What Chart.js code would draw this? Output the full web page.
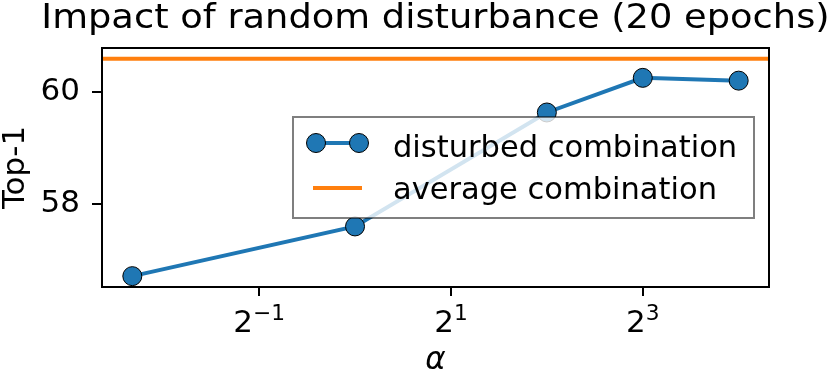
<!DOCTYPE html>
<html>
<head>
<meta charset="utf-8">
<script src="https://cdn.jsdelivr.net/npm/chart.js@4"></script>
<style>
  html, body { margin: 0; padding: 0; background: #fff; }
  #wrap { width: 830px; height: 377px; }
</style>
</head>
<body>
<div id="wrap"><canvas id="impact"></canvas></div>
<script>
    // values
    const alphas = [0.2, 1, 4, 8, 16];
    const top1 = [56.70, 57.59, 59.63, 60.25, 60.20];
    const averageTop1 = 60.59;
    const xTickValues = [0.5, 2, 8];
    const xTickBase = ['2', '2', '2'];
    const xTickExp = ['\u22121', '1', '3'];
    const yTickValues = [58, 60];
    const titleText = 'Impact of random disturbance (20 epochs)';

    // matplotlib-like 5% margins (log space for x)
    const lo = Math.log2(Math.min(...alphas));
    const hi = Math.log2(Math.max(...alphas));
    const xMin = Math.pow(2, lo - 0.05 * (hi - lo));
    const xMax = Math.pow(2, hi + 0.05 * (hi - lo));
    const yLo = Math.min(...top1, averageTop1);
    const yHi = Math.max(...top1, averageTop1);
    const yMin = yLo - 0.05 * (yHi - yLo);
    const yMax = yHi + 0.05 * (yHi - yLo);

    const FONT = 'DejaVu Sans';
    Chart.defaults.font.family = FONT;
    Chart.defaults.color = '#000';

    const ctx = document.getElementById('impact').getContext('2d');

    const decorations = {
      id: 'decorations',
      afterDraw: function(chart) {
        const c = chart.ctx;
        const a = chart.chartArea;
        const ds = chart.data.datasets;
        c.save();

        // title, centred over the axes
        c.font = '33px "' + FONT + '"';
        c.fillStyle = '#000';
        c.textBaseline = 'alphabetic';
        c.textAlign = 'center';
        c.save();
        c.translate((a.left + a.right) / 2, 27.5);
        c.scale(1.115, 1);
        c.fillText(titleText, 0, 0);
        c.restore();

        // x tick labels as 2^k
        const xs = chart.scales.x;
        c.textAlign = 'left';
        xTickValues.forEach(function(v, i) {
          const px = xs.getPixelForValue(v);
          c.font = '31px "' + FONT + '"';
          const wb = c.measureText(xTickBase[i]).width;
          c.font = '21.7px "' + FONT + '"';
          const we = c.measureText(xTickExp[i]).width;
          const x0 = px - (wb + we) / 2;
          c.font = '31px "' + FONT + '"';
          c.fillText(xTickBase[i], x0, a.bottom + 45);
          c.font = '21.7px "' + FONT + '"';
          c.fillText(xTickExp[i], x0 + wb, a.bottom + 32.5);
        });

        // frame
        c.strokeStyle = '#000';
        c.lineWidth = 2;
        c.strokeRect(a.left, a.top, a.right - a.left, a.bottom - a.top);

        // legend box inside the axes
        const bx = a.left + 191, by = a.top + 69, bw = 461, bh = 101;
        c.fillStyle = 'rgba(255,255,255,0.8)';
        c.fillRect(bx, by, bw, bh);
        c.strokeStyle = 'rgba(0,0,0,0.5)';
        c.lineWidth = 2;
        c.strokeRect(bx, by, bw, bh);

        c.font = '30.5px "' + FONT + '"';
        c.textBaseline = 'alphabetic';
        c.textAlign = 'left';

        // row 1: line with markers
        let ry = by + 26;
        c.strokeStyle = ds[0].borderColor;
        c.lineWidth = 4;
        c.beginPath();
        c.moveTo(bx + 23, ry);
        c.lineTo(bx + 66, ry);
        c.stroke();
        [bx + 23, bx + 66].forEach(function(px) {
          c.beginPath();
          c.arc(px, ry, 9.5, 0, Math.PI * 2);
          c.fillStyle = ds[0].pointBackgroundColor;
          c.fill();
          c.lineWidth = 1;
          c.strokeStyle = '#000';
          c.stroke();
        });
        c.fillStyle = '#000';
        c.fillText(ds[0].label, bx + 100, by + 39.5);

        // row 2: plain line
        ry = by + 71;
        c.strokeStyle = ds[1].borderColor;
        c.lineWidth = 4;
        c.beginPath();
        c.moveTo(bx + 20, ry);
        c.lineTo(bx + 69, ry);
        c.stroke();
        c.fillStyle = '#000';
        c.fillText(ds[1].label, bx + 100, by + 81.5);
        c.restore();
      }
    };

    const chart = new Chart(ctx, {
      type: 'line',
      data: {
        datasets: [{
          label: 'disturbed combination',
          data: alphas.map(function(a, i) { return {x: a, y: top1[i]}; }),
          borderColor: '#1f77b4',
          borderWidth: 4,
          pointRadius: 9.5,
          pointBackgroundColor: '#1f77b4',
          pointBorderColor: '#000',
          pointBorderWidth: 1,
          tension: 0
        }, {
          label: 'average combination',
          data: [{x: xMin, y: averageTop1}, {x: xMax, y: averageTop1}],
          borderColor: '#ff7f0e',
          borderWidth: 4,
          pointRadius: 0,
          tension: 0
        }]
      },
      options: {
        animation: false,
        responsive: true,
        maintainAspectRatio: false,
        devicePixelRatio: 1,
        layout: {
          padding: { left: 0, right: 61, top: 48, bottom: 0 }
        },
        plugins: {
          legend: { display: false },
          tooltip: { enabled: false },
          title: { display: false }
        },
        scales: {
          x: {
            type: 'logarithmic',
            min: xMin,
            max: xMax,
            border: { display: false },
            grid: {
              drawOnChartArea: false,
              drawTicks: true,
              tickLength: 9,
              color: '#000',
              lineWidth: 2
            },
            ticks: {
              font: { size: 31 },
              padding: 6,
              maxRotation: 0,
              autoSkip: false,
              callback: function() { return ''; }
            },
            afterBuildTicks: function(scale) {
              scale.ticks = xTickValues.map(function(v) { return {value: v}; });
            },
            afterFit: function(scale) { scale.height = 90; },
            title: {
              display: true,
              text: 'α',
              font: { size: 31, style: 'italic', lineHeight: 1 },
              padding: { top: 0, bottom: 1 }
            }
          },
          y: {
            min: yMin,
            max: yMax,
            border: { display: false },
            grid: {
              drawOnChartArea: false,
              drawTicks: true,
              tickLength: 10,
              color: '#000',
              lineWidth: 2
            },
            ticks: {
              font: { size: 31 },
              padding: 12
            },
            afterBuildTicks: function(scale) {
              scale.ticks = yTickValues.map(function(v) { return {value: v}; });
            },
            afterFit: function(scale) { scale.width = 102; },
            title: {
              display: true,
              text: 'Top-1',
              font: { size: 31, lineHeight: 1 },
              padding: 0
            }
          }
        }
      },
      plugins: [decorations]
    });
</script>
</body>
</html>
